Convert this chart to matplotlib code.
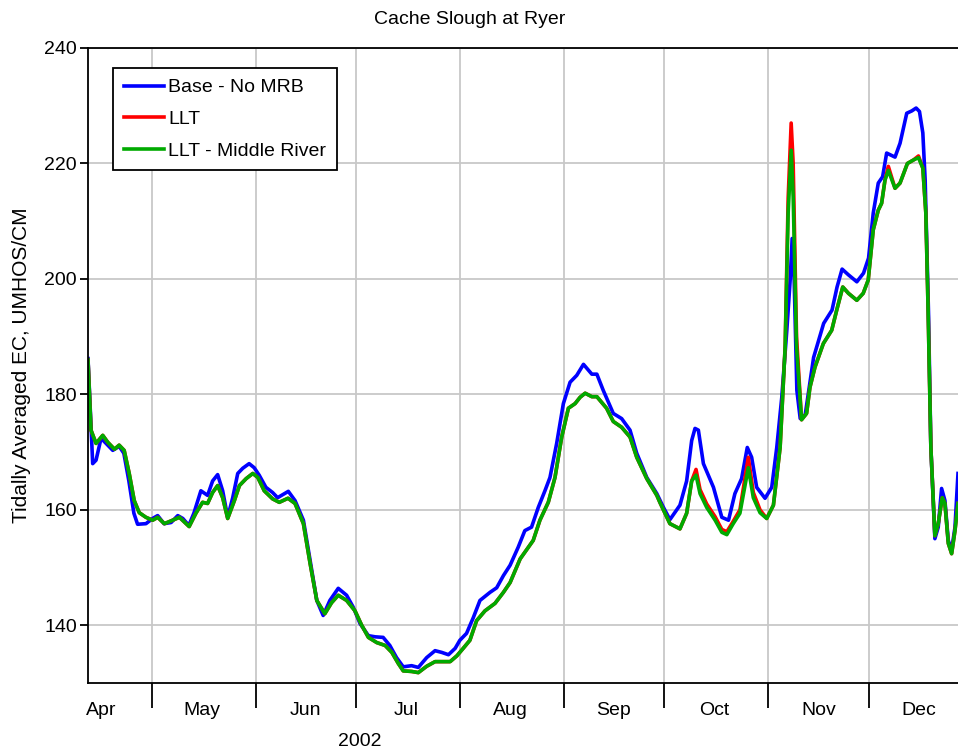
import datetime as dt
import numpy as np
import matplotlib
matplotlib.use("Agg")
import matplotlib.pyplot as plt
import matplotlib.dates as mdates

plt.rcParams["font.family"] = ["Liberation Sans", "DejaVu Sans"]

# days counted from 2002-04-01, values in UMHOS/CM
base_day = [11.0, 12.4, 13.4, 14.9, 16.4, 18.4, 20.3, 21.7, 23.2, 24.7, 25.8, 28.3,
            30.3, 31.8, 33.7, 35.8, 37.8, 39.3, 41.1, 42.6, 44.7, 46.7, 48.2, 49.7,
            51.2, 52.7, 54.2, 55.7, 57.2, 59.1, 60.6, 62.1, 64.1, 66.1, 67.6, 70.8,
            72.8, 75.3, 77.3, 79.3, 81.2, 83.2, 85.7, 88.2, 90.2, 92.2, 94.7, 96.7,
            99.1, 101.1, 103.1, 105.1, 107.6, 109.6, 112.1, 114.6, 116.6, 118.6, 120.6, 122.0,
            124.0, 126.0, 128.0, 131.0, 133.0, 135.0, 137.0, 139.4, 141.4, 143.4, 145.4, 147.4,
            148.9, 150.9, 152.9, 154.9, 156.9, 158.9, 161.4, 162.9, 164.8, 167.8, 170.3, 172.8,
            174.8, 177.8, 180.8, 182.7, 184.7, 187.7, 189.7, 191.2, 192.2, 193.2, 194.7, 197.7,
            200.2, 202.2, 204.1, 206.1, 207.8, 209.1, 210.6, 213.1, 215.1, 216.6, 218.1, 219.6,
            220.6, 221.2, 221.8, 222.6, 223.6, 225.1, 227.6, 230.6, 233.1, 234.6, 236.1, 238.0,
            240.5, 242.5, 244.0, 245.4, 246.9, 248.2, 249.4, 251.9, 253.4, 255.4, 256.9, 258.2,
            259.2, 260.2, 260.9, 261.9, 262.6, 263.8, 264.8, 265.8, 266.8, 267.8, 268.8, 269.8,
            270.7]
base_val = [186.2, 168.0, 168.6, 172.4, 171.5, 170.3, 171.0, 169.8, 165.0, 159.4, 157.5, 157.6,
            158.5, 159.0, 157.6, 157.8, 159.0, 158.5, 157.3, 159.4, 163.3, 162.5, 165.0, 166.1,
            163.3, 158.7, 162.1, 166.3, 167.2, 168.0, 167.3, 166.0, 163.9, 163.0, 162.1, 163.2,
            161.6, 158.2, 151.2, 144.3, 141.7, 144.3, 146.4, 145.2, 143.1, 140.3, 138.2, 138.0,
            137.9, 136.5, 134.4, 132.8, 133.0, 132.7, 134.4, 135.6, 135.3, 134.9, 136.0, 137.4,
            138.6, 141.3, 144.3, 145.7, 146.5, 148.6, 150.4, 153.5, 156.4, 157.0, 160.4, 163.3,
            165.6, 171.5, 178.4, 182.1, 183.3, 185.2, 183.5, 183.5, 180.7, 176.7, 175.8, 173.8,
            169.8, 165.6, 162.8, 160.5, 158.3, 160.8, 165.0, 172.0, 174.1, 173.8, 168.0, 163.9,
            158.7, 158.2, 162.8, 165.4, 170.8, 169.1, 163.9, 162.0, 163.9, 170.8, 179.5, 191.1,
            199.8, 207.0, 199.8, 180.7, 175.8, 176.5, 186.4, 192.3, 194.6, 198.6, 201.7, 200.7,
            199.5, 201.0, 203.6, 211.4, 216.6, 217.7, 221.8, 221.1, 223.5, 228.7, 229.1, 229.6,
            229.0, 225.3, 217.1, 194.0, 170.8, 155.0, 157.0, 163.7, 161.6, 154.7, 153.0, 157.0,
            166.3]

llt_day = [11.0, 11.9, 13.4, 15.4, 16.9, 18.9, 20.3, 21.8, 23.3, 24.8, 26.3, 28.3,
           30.3, 31.8, 33.8, 36.3, 38.3, 41.2, 43.2, 45.2, 46.7, 48.2, 49.7, 51.2,
           52.7, 54.7, 56.2, 58.2, 60.2, 61.7, 63.6, 66.1, 68.1, 70.7, 72.8, 75.3,
           77.3, 79.3, 81.7, 83.7, 85.7, 88.2, 90.7, 92.7, 94.7, 97.2, 99.7, 101.7,
           103.6, 105.1, 107.6, 109.6, 112.1, 114.6, 117.1, 119.1, 121.1, 123.0, 125.0, 127.0,
           129.5, 132.5, 135.0, 137.0, 140.0, 143.9, 145.9, 148.4, 150.4, 152.4, 154.4, 156.4,
           157.9, 159.4, 161.4, 162.9, 165.8, 167.8, 170.3, 172.8, 174.8, 177.8, 180.8, 181.7,
           184.7, 187.7, 189.7, 191.2, 192.5, 193.7, 195.7, 198.2, 200.2, 201.7, 203.6, 205.6,
           208.1, 209.6, 211.6, 213.6, 215.6, 217.6, 219.1, 220.0, 220.9, 221.5, 222.5, 224.0,
           225.5, 226.5, 228.0, 230.5, 233.0, 234.5, 236.3, 238.0, 240.5, 242.4, 243.9, 245.4,
           246.9, 247.9, 248.9, 249.9, 251.9, 253.4, 255.6, 257.4, 258.9, 260.2, 261.1, 261.8,
           262.6, 263.8, 264.8, 266.0, 266.8, 267.8, 268.8, 269.8, 270.7]
llt_val = [186.0, 173.8, 171.5, 172.9, 171.7, 170.5, 171.2, 170.3, 166.3, 161.6, 159.5, 158.7,
           158.2, 158.7, 157.6, 158.2, 158.7, 157.1, 159.4, 161.3, 161.1, 163.0, 164.2, 162.1,
           158.5, 161.6, 164.2, 165.4, 166.3, 165.6, 163.3, 161.9, 161.3, 162.0, 161.1, 157.6,
           150.7, 144.3, 142.0, 143.9, 145.2, 144.3, 142.5, 140.0, 137.9, 137.0, 136.5, 135.3,
           133.4, 132.1, 132.0, 131.8, 132.9, 133.7, 133.7, 133.7, 134.7, 136.0, 137.4, 140.8,
           142.5, 143.8, 145.7, 147.4, 151.5, 154.7, 158.2, 161.3, 165.6, 172.6, 177.6, 178.4,
           179.5, 180.2, 179.6, 179.6, 177.6, 175.3, 174.3, 172.6, 169.1, 165.4, 162.5, 161.3,
           157.6, 156.7, 159.4, 165.0, 167.0, 163.5, 161.0, 158.8, 156.6, 156.2, 158.0, 160.0,
           169.1, 163.0, 160.0, 158.5, 160.8, 170.8, 188.2, 214.0, 227.0, 220.0, 190.0, 175.6,
           176.7, 181.2, 184.7, 188.8, 191.1, 194.6, 198.6, 197.5, 196.3, 197.5, 199.8, 208.5,
           211.9, 213.1, 217.1, 219.5, 215.7, 216.6, 220.0, 220.6, 221.3, 219.2, 211.4, 194.0,
           170.8, 155.5, 157.6, 162.1, 161.1, 154.2, 152.4, 156.4, 161.1]
llt_mr_val = [186.0, 173.8, 171.5, 172.9, 171.7, 170.5, 171.2, 170.3, 166.3, 161.6, 159.5, 158.7,
              158.2, 158.7, 157.6, 158.2, 158.7, 157.1, 159.4, 161.3, 161.1, 163.0, 164.2, 162.1,
              158.5, 161.6, 164.2, 165.4, 166.3, 165.6, 163.3, 161.9, 161.3, 162.0, 161.1, 157.6,
              150.7, 144.3, 142.0, 143.9, 145.2, 144.3, 142.5, 140.0, 137.9, 137.0, 136.5, 135.3,
              133.4, 132.1, 132.0, 131.8, 132.9, 133.7, 133.7, 133.7, 134.7, 136.0, 137.4, 140.8,
              142.5, 143.8, 145.7, 147.4, 151.5, 154.7, 158.2, 161.3, 165.6, 172.6, 177.6, 178.4,
              179.5, 180.2, 179.6, 179.6, 177.6, 175.3, 174.3, 172.6, 169.1, 165.4, 162.5, 161.3,
              157.6, 156.7, 159.4, 165.0, 166.0, 162.8, 160.4, 158.2, 156.1, 155.7, 157.6, 159.4,
              167.3, 162.1, 159.5, 158.5, 160.8, 170.8, 188.2, 211.4, 222.3, 214.2, 188.2, 175.6,
              176.7, 181.2, 184.7, 188.8, 191.1, 194.6, 198.6, 197.5, 196.3, 197.5, 199.8, 208.5,
              211.9, 213.1, 217.1, 218.8, 215.7, 216.6, 220.0, 220.6, 221.0, 219.2, 211.4, 194.0,
              170.8, 155.5, 157.6, 162.1, 161.1, 154.2, 152.4, 156.4, 161.1]

series_names = ["Base - No MRB", "LLT", "LLT - Middle River"]
series_colors = ["#0000FF", "#FF0000", "#00AA00"]

t0 = mdates.date2num(dt.date(2002, 4, 1))

fig = plt.figure(figsize=(9.58, 7.52), dpi=100)
ax = fig.add_axes([88 / 958, 1 - 683 / 752, 870 / 958, 635 / 752])

ax.plot(t0 + np.array(base_day), base_val, color=series_colors[0], lw=2.6, label=series_names[0])
ax.plot(t0 + np.array(llt_day), llt_val, color=series_colors[1], lw=2.6, label=series_names[1])
ax.plot(t0 + np.array(llt_day), llt_mr_val, color=series_colors[2], lw=2.6, label=series_names[2])

ax.set_xlim(t0 + 11, t0 + 270.7)
ax.set_ylim(130, 240)

ax.xaxis.set_major_locator(mdates.MonthLocator())
ax.xaxis.set_major_formatter(plt.NullFormatter())
ax.xaxis.set_minor_locator(mdates.MonthLocator(bymonthday=16))
ax.xaxis.set_minor_formatter(mdates.DateFormatter("%b"))
ax.tick_params(axis="x", which="major", length=18, width=1.3, direction="out")
ax.tick_params(axis="x", which="minor", length=0, pad=14, labelsize=14)
ax.set_yticks(np.arange(140, 241, 20))
ax.tick_params(axis="y", length=6, width=1.3, pad=2, labelsize=14)

ax.grid(True, which="major", color="#C8C8C8", lw=1.3)
ax.set_axisbelow(True)
ax.spines["right"].set_visible(False)
for s in ["left", "top", "bottom"]:
    ax.spines[s].set_linewidth(1.3)

leg = ax.legend(loc="upper left", bbox_to_anchor=(0.0287, 0.9685), fontsize=14,
                fancybox=False, edgecolor="black", framealpha=1, borderaxespad=0,
                handlelength=2.1, handletextpad=0.2, labelspacing=0.72, borderpad=0.55)
leg.get_frame().set_linewidth(1.3)

fig.text(470 / 958, 1 - 19 / 752, "Cache Slough at Ryer", ha="center", va="center", fontsize=14)
fig.text(22 / 958, 1 - 365 / 752, "Tidally Averaged EC, UMHOS/CM", rotation=90,
         ha="center", va="center", fontsize=15)
fig.text(360 / 958, 1 - 741 / 752, "2002", ha="center", va="center", fontsize=14)

fig.savefig("out.png", dpi=100)
